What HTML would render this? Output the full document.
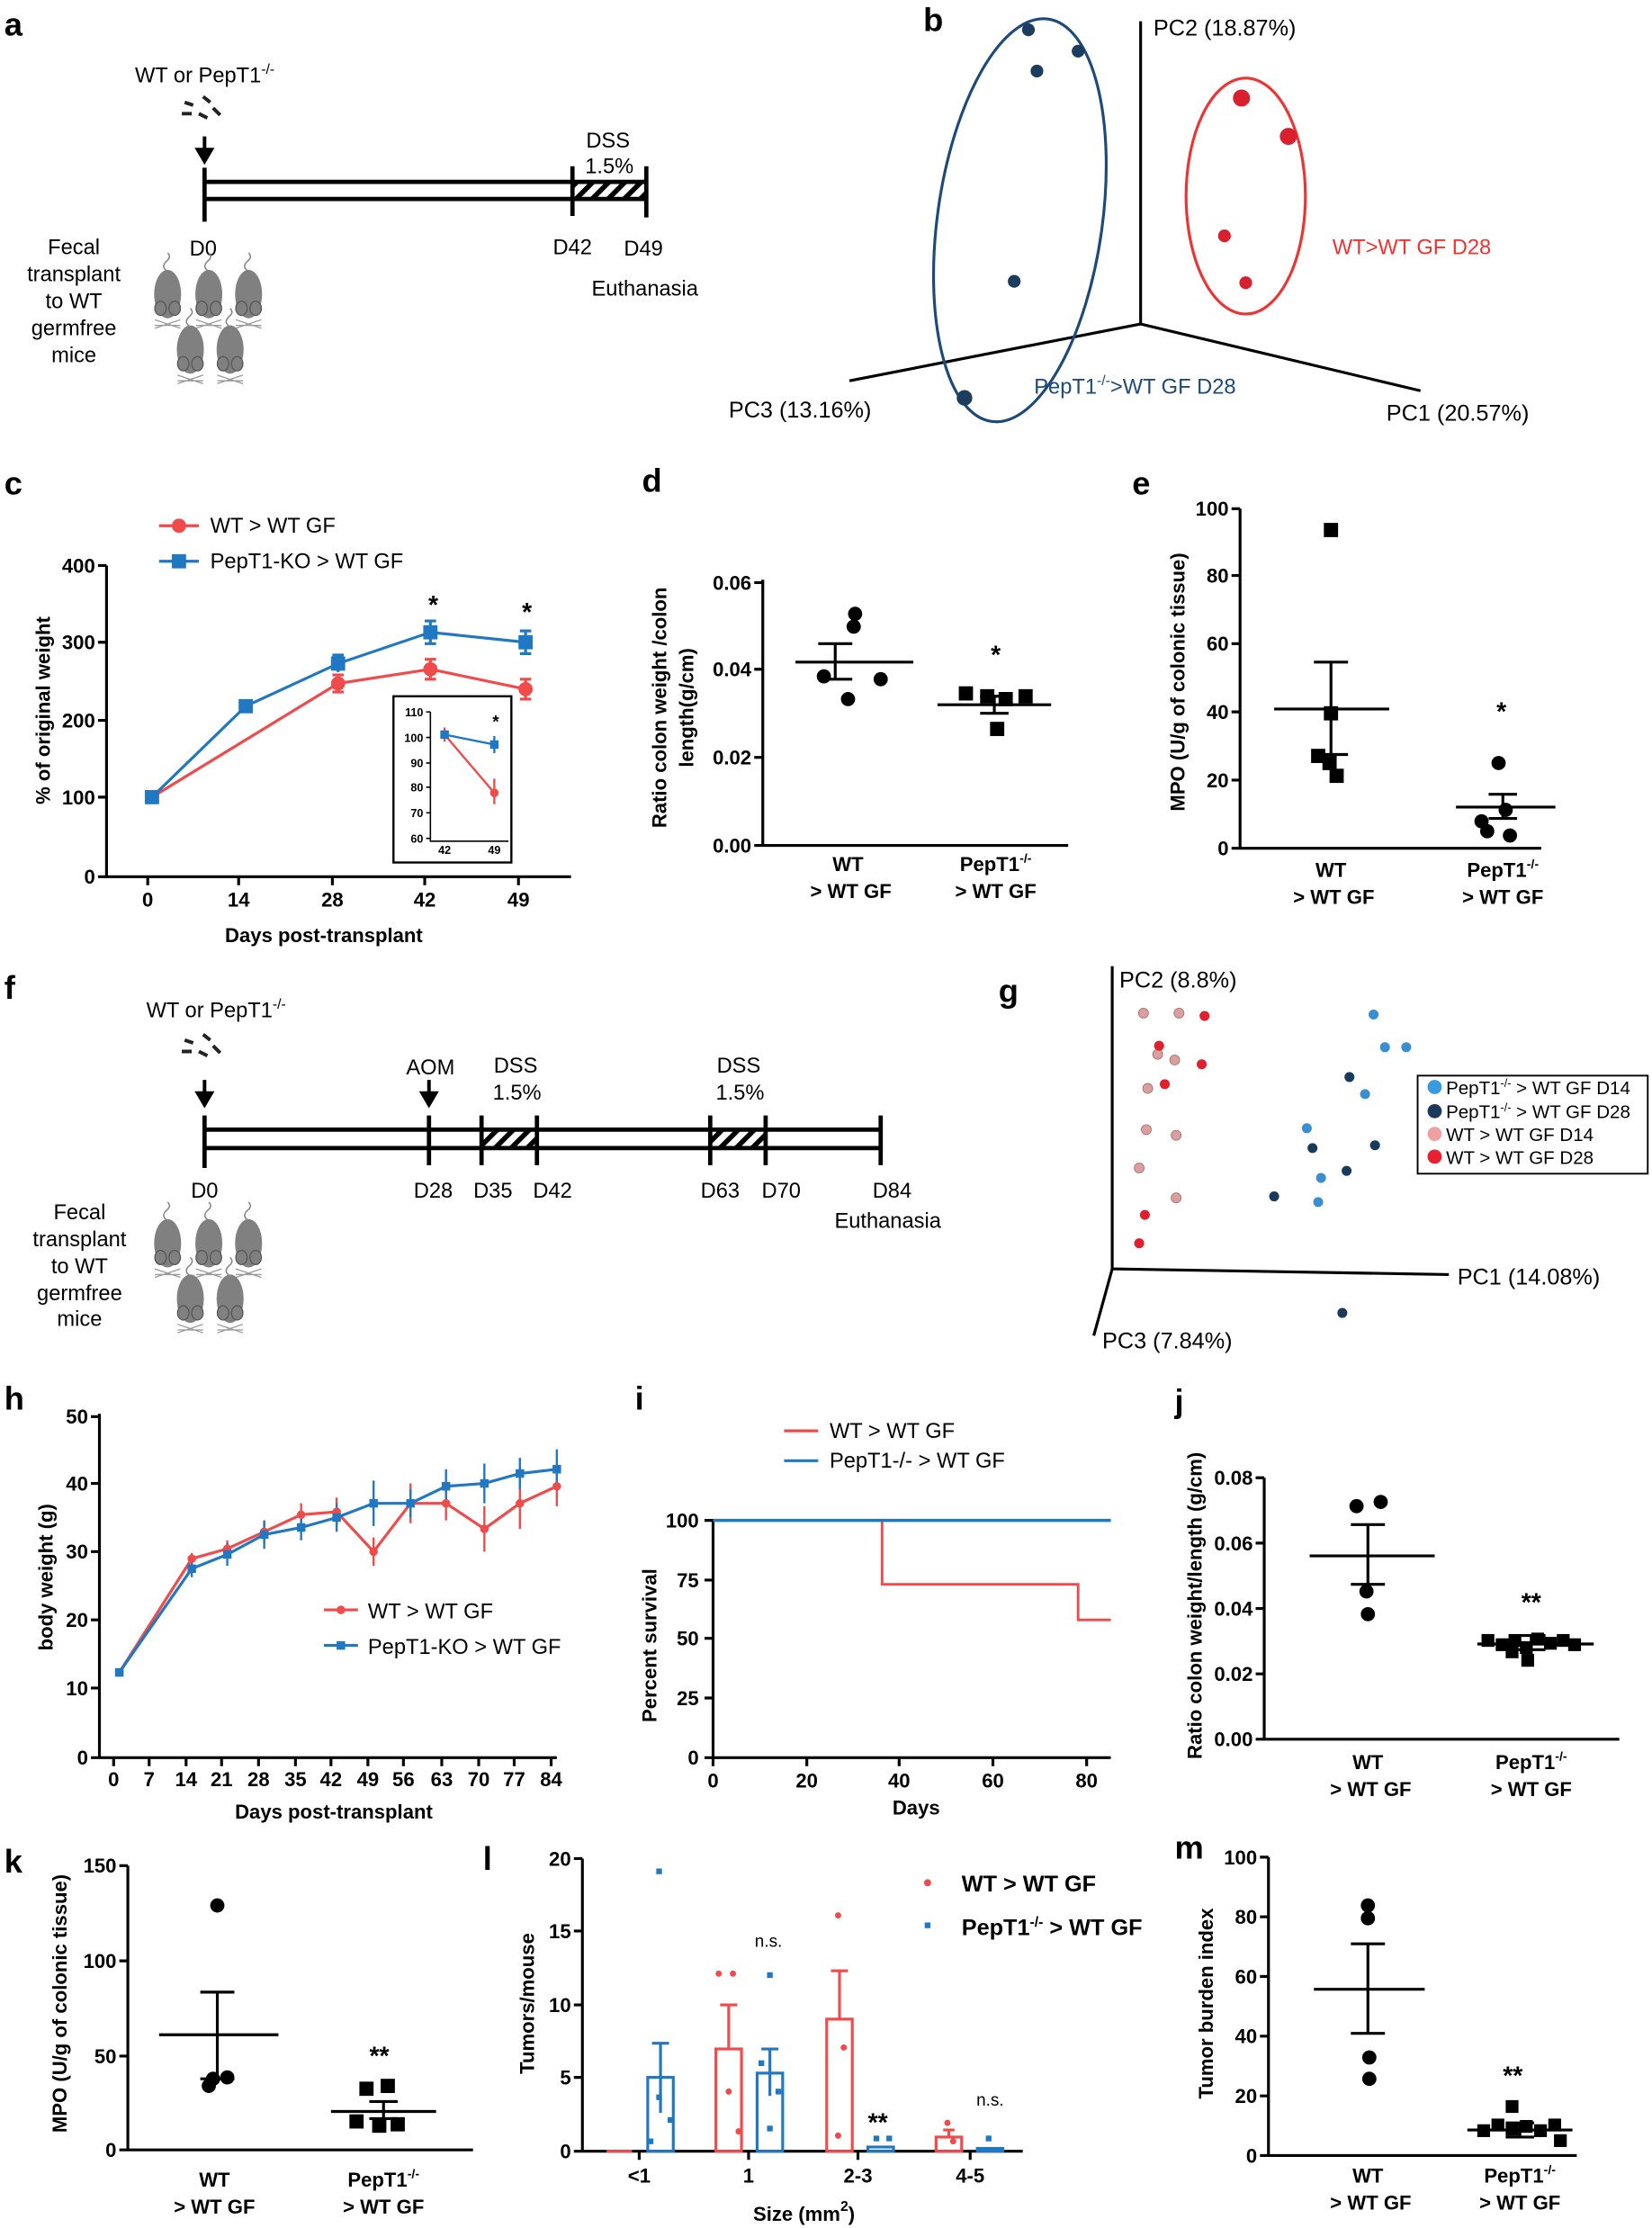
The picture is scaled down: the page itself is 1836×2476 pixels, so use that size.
<!DOCTYPE html>
<html><head><meta charset="utf-8"><style>html,body{margin:0;padding:0;background:#fff}svg{display:block}</style></head><body>
<svg width="1836" height="2476" viewBox="0 0 1163 1568" preserveAspectRatio="none" xmlns="http://www.w3.org/2000/svg" font-family="Liberation Sans, Arial, sans-serif">
<defs>
<pattern id="h" width="8" height="8" patternUnits="userSpaceOnUse" patternTransform="rotate(45)"><rect width="8" height="8" fill="#fff"/><rect width="3.5" height="8" fill="#000"/></pattern>
<g id="mouse"><path d="M0,-16 q-5,-3 -1,-7 q4,-3 1,-6" fill="none" stroke="#888" stroke-width="1"/><ellipse cx="0" cy="0" rx="9.5" ry="17" fill="#808080"/><ellipse cx="-5" cy="10" rx="4" ry="5" fill="#808080" stroke="#555" stroke-width="0.8"/><ellipse cx="5" cy="10" rx="4" ry="5" fill="#808080" stroke="#555" stroke-width="0.8"/><path d="M-9,18 l18,6 M9,18 l-18,6 M-9,22 l18,0" stroke="#999" stroke-width="0.8"/></g>
</defs>
<rect width="1163" height="1568" fill="#fff"/>
<g font-weight="bold" font-size="23">
<text x="3" y="25">a</text><text x="650" y="22">b</text><text x="3" y="348">c</text><text x="452" y="346">d</text><text x="797" y="348">e</text><text x="3" y="703">f</text><text x="703" y="705">g</text><text x="3" y="992">h</text><text x="447" y="992">i</text><text x="827" y="994">j</text><text x="3" y="1318">k</text><text x="340" y="1316">l</text><text x="827" y="1308">m</text>
</g>

<!-- a -->
<g font-size="15">
<text x="95" y="58">WT or PepT1<tspan font-size="10" dy="-6">-/-</tspan></text>
<path d="M130,72 l6,2 M128,80 l7,0 M143,68 l5,4 M140,80 l6,3 M150,76 l5,5" stroke="#222" stroke-width="2.5"/>
<path d="M144,96 v10" stroke="#000" stroke-width="2.5"/><path d="M137,104 l7,12 l7,-12z"/>
<rect x="403" y="128" width="52" height="12" fill="url(#h)"/>
<path d="M144,128 H455 M144,140 H455 M144,118 V156 M403,117 V152 M455,117 V153" stroke="#000" stroke-width="3"/>
<text x="428" y="104" text-anchor="middle">DSS</text><text x="429" y="122" text-anchor="middle">1.5%</text>
<text x="143" y="180" text-anchor="middle">D0</text><text x="403" y="179" text-anchor="middle">D42</text><text x="453" y="180" text-anchor="middle">D49</text>
<text x="454" y="208" text-anchor="middle">Euthanasia</text>
<g text-anchor="middle"><text x="52" y="179">Fecal</text><text x="52" y="198">transplant</text><text x="52" y="217">to WT</text><text x="52" y="236">germfree</text><text x="52" y="255">mice</text></g>
<use href="#mouse" x="118" y="207"/><use href="#mouse" x="147" y="207"/><use href="#mouse" x="175" y="207"/><use href="#mouse" x="134" y="246"/><use href="#mouse" x="162" y="246"/>
</g>

<!-- b -->
<g font-size="16">
<path d="M803,15 V228 L598,268 M803,228 L1000,275" stroke="#000" stroke-width="2" fill="none"/>
<text x="812" y="25">PC2 (18.87%)</text><text x="513" y="294">PC3 (13.16%)</text><text x="976" y="296">PC1 (20.57%)</text>
<ellipse cx="718" cy="155" rx="58" ry="143" transform="rotate(8 718 155)" fill="none" stroke="#1d4a7a" stroke-width="2"/>
<ellipse cx="877" cy="138" rx="42" ry="83" fill="none" stroke="#e33" stroke-width="2"/>
<g fill="#1d3d5e"><circle cx="724" cy="21" r="4.5"/><circle cx="759" cy="36" r="4.5"/><circle cx="730" cy="50" r="4.5"/><circle cx="714" cy="198" r="4.5"/><circle cx="679" cy="280" r="5.5"/></g>
<g fill="#d9202e"><circle cx="874" cy="69" r="6"/><circle cx="907" cy="96" r="6"/><circle cx="862" cy="166" r="4.5"/><circle cx="877" cy="199" r="4.5"/></g>
<text x="728" y="277" fill="#1d4a7a" font-size="15">PepT1<tspan font-size="10" dy="-6">-/-</tspan><tspan dy="6">&gt;WT GF D28</tspan></text>
<text x="938" y="179" fill="#e33" font-size="15">WT&gt;WT GF D28</text>
</g>

<!-- c -->
<g font-size="14" font-weight="bold">
<path d="M75,398 V617 H402" stroke="#000" stroke-width="2" fill="none"/>
<path d="M69,398 h6 M69,452 h6 M69,507 h6 M69,561 h6 M69,617 h6 M104,617 v6 M168,617 v6 M234,617 v6 M299,617 v6 M365,617 v6" stroke="#000" stroke-width="2"/>
<g text-anchor="end"><text x="67" y="403">400</text><text x="67" y="457">300</text><text x="67" y="512">200</text><text x="67" y="566">100</text><text x="67" y="622">0</text></g>
<g text-anchor="middle"><text x="104" y="638">0</text><text x="168" y="638">14</text><text x="234" y="638">28</text><text x="299" y="638">42</text><text x="365" y="638">49</text></g>
<text x="228" y="663" text-anchor="middle">Days post-transplant</text>
<text transform="translate(35,500) rotate(-90)" text-anchor="middle">% of original weight</text>
<polyline points="107,561 238,481 303,471 370,485" fill="none" stroke="#f04a4a" stroke-width="2"/>
<polyline points="107,561 173,497 238,467 303,445 370,452" fill="none" stroke="#1f78c1" stroke-width="2"/>
<path d="M238,475 v12 M303,464 v14 M370,478 v14 M234,475h8 M234,487h8 M299,464h8 M299,478h8 M366,478h8 M366,492h8" stroke="#f04a4a" stroke-width="2"/>
<path d="M238,461 v12 M303,437 v16 M370,444 v16 M234,461h8 M299,437h8 M299,453h8 M366,444h8 M366,460h8" stroke="#1f78c1" stroke-width="2"/>
<g fill="#f04a4a"><circle cx="238" cy="481" r="5"/><circle cx="303" cy="471" r="5"/><circle cx="370" cy="485" r="5"/></g>
<g fill="#1f78c1"><rect x="102" y="556" width="10" height="10"/><rect x="168" y="492" width="10" height="10"/><rect x="233" y="462" width="10" height="10"/><rect x="298" y="440" width="10" height="10"/><rect x="365" y="447" width="10" height="10"/></g>
<text x="305" y="432" text-anchor="middle" font-size="18">*</text><text x="371" y="437" text-anchor="middle" font-size="18">*</text>
<path d="M112,370 h28" stroke="#f04a4a" stroke-width="2"/><circle cx="126" cy="370" r="5" fill="#f04a4a"/>
<path d="M112,395 h28" stroke="#1f78c1" stroke-width="2"/><rect x="121" y="390" width="10" height="10" fill="#1f78c1"/>
<text x="148" y="375" font-weight="normal" font-size="15">WT &gt; WT GF</text><text x="148" y="400" font-weight="normal" font-size="15">PepT1-KO &gt; WT GF</text>
<rect x="277" y="490" width="83" height="117" fill="#fff" stroke="#000" stroke-width="1.5"/>
<g font-size="8"><path d="M303,501 V592 H358 M300,501h3 M300,519h3 M300,537h3 M300,554h3 M300,572h3 M300,590h3" stroke="#000" stroke-width="1" fill="none"/>
<g text-anchor="end"><text x="298" y="504">110</text><text x="298" y="522">100</text><text x="298" y="540">90</text><text x="298" y="557">80</text><text x="298" y="575">70</text><text x="298" y="593">60</text></g>
<text x="313" y="601" text-anchor="middle">42</text><text x="348" y="601" text-anchor="middle">49</text>
<polyline points="313,517 348,524" stroke="#1f78c1" stroke-width="1.5" fill="none"/><polyline points="313,517 348,558" stroke="#f04a4a" stroke-width="1.5" fill="none"/>
<path d="M348,548 v18 M313,512v10" stroke="#f04a4a" stroke-width="1.5"/><path d="M348,518 v12" stroke="#1f78c1" stroke-width="1.5"/>
<rect x="310" y="514" width="6" height="6" fill="#1f78c1"/><rect x="345" y="521" width="6" height="6" fill="#1f78c1"/><circle cx="348" cy="558" r="3" fill="#f04a4a"/>
<text x="349" y="512" text-anchor="middle" font-size="12">*</text></g>
</g>

<!-- d -->
<g font-size="14" font-weight="bold">
<path d="M537,408 V595 H752 M531,410h6 M531,471h6 M531,533h6 M531,595h6" stroke="#000" stroke-width="2" fill="none"/>
<g text-anchor="end"><text x="529" y="415">0.06</text><text x="529" y="476">0.04</text><text x="529" y="538">0.02</text><text x="529" y="600">0.00</text></g>
<path d="M560,466 H643 M588,453 v25 M576,453 h24 M576,478 h24 M660,496 H740 M700,490 v12 M690,490h20 M690,502h20" stroke="#000" stroke-width="2"/>
<g><circle cx="602" cy="432" r="5"/><circle cx="601" cy="441" r="5"/><circle cx="620" cy="478" r="5"/><circle cx="580" cy="476" r="5"/><circle cx="597" cy="492" r="5"/></g>
<g><rect x="675" y="483" width="10" height="10"/><rect x="690" y="485" width="10" height="10"/><rect x="703" y="487" width="10" height="10"/><rect x="717" y="485" width="10" height="10"/><rect x="697" y="508" width="10" height="10"/></g>
<text x="701" y="467" text-anchor="middle" font-size="18">*</text>
<g text-anchor="middle"><text x="597" y="613">WT</text><text x="599" y="632">&gt; WT GF</text><text x="701" y="613">PepT1<tspan font-size="9" dy="-6">-/-</tspan></text><text x="701" y="632">&gt; WT GF</text></g>
<text transform="translate(469,498) rotate(-90)" text-anchor="middle">Ratio colon weight /colon</text>
<text transform="translate(488,498) rotate(-90)" text-anchor="middle">length(g/cm)</text>
</g>

<!-- e -->
<g font-size="14" font-weight="bold">
<path d="M873,358 V597 H1085 M867,358h6 M867,405h6 M867,453h6 M867,501h6 M867,549h6 M867,597h6" stroke="#000" stroke-width="2" fill="none"/>
<g text-anchor="end"><text x="865" y="363">100</text><text x="865" y="410">80</text><text x="865" y="458">60</text><text x="865" y="506">40</text><text x="865" y="554">20</text><text x="865" y="602">0</text></g>
<path d="M897,499 H978 M937,466 v65 M925,466h24 M925,531h24 M1025,568 H1095 M1058,559 v17 M1048,559h20 M1048,576h20" stroke="#000" stroke-width="2"/>
<rect x="932" y="368" width="10" height="10"/><rect x="932" y="497" width="10" height="10"/><rect x="923" y="527" width="10" height="10"/><rect x="936" y="541" width="10" height="10"/><rect x="931" y="532" width="10" height="10"/>
<circle cx="1055" cy="537" r="5"/><circle cx="1043" cy="578" r="5"/><circle cx="1060" cy="570" r="5"/><circle cx="1047" cy="585" r="5"/><circle cx="1063" cy="588" r="5"/>
<text x="1057" y="507" text-anchor="middle" font-size="18">*</text>
<g text-anchor="middle"><text x="937" y="617">WT</text><text x="939" y="636">&gt; WT GF</text><text x="1058" y="617">PepT1<tspan font-size="9" dy="-6">-/-</tspan></text><text x="1058" y="636">&gt; WT GF</text></g>
<text transform="translate(834,480) rotate(-90)" text-anchor="middle">MPO (U/g of colonic tissue)</text>
</g>

<!-- f -->
<g font-size="15">
<text x="103" y="716">WT or PepT1<tspan font-size="10" dy="-6">-/-</tspan></text>
<path d="M130,732 l6,2 M128,740 l7,0 M143,728 l5,4 M140,740 l6,3 M150,736 l5,5" stroke="#222" stroke-width="2.5"/>
<path d="M144,760 v10 M302,760 v10" stroke="#000" stroke-width="2.5"/><path d="M137,768 l7,12 l7,-12z M295,768 l7,12 l7,-12z"/>
<rect x="339" y="795" width="39" height="13" fill="url(#h)"/><rect x="500" y="795" width="39" height="13" fill="url(#h)"/>
<path d="M144,795 H620 M144,808 H620 M144,785 V822 M302,785 V820 M339,785 V820 M378,785 V820 M500,785 V820 M539,785 V820 M620,785 V820" stroke="#000" stroke-width="3"/>
<text x="303" y="756" text-anchor="middle">AOM</text>
<text x="363" y="755" text-anchor="middle">DSS</text><text x="364" y="774" text-anchor="middle">1.5%</text>
<text x="520" y="755" text-anchor="middle">DSS</text><text x="521" y="774" text-anchor="middle">1.5%</text>
<g text-anchor="middle"><text x="144" y="843">D0</text><text x="305" y="843">D28</text><text x="347" y="843">D35</text><text x="389" y="843">D42</text><text x="507" y="843">D63</text><text x="550" y="843">D70</text><text x="628" y="843">D84</text><text x="625" y="864">Euthanasia</text>
<text x="56" y="858">Fecal</text><text x="56" y="877">transplant</text><text x="56" y="896">to WT</text><text x="56" y="915">germfree</text><text x="56" y="933">mice</text></g>
<use href="#mouse" x="118" y="875"/><use href="#mouse" x="147" y="875"/><use href="#mouse" x="175" y="875"/><use href="#mouse" x="134" y="914"/><use href="#mouse" x="162" y="914"/>
</g>

<!-- g -->
<g font-size="16">
<path d="M783,680 V893 L1020,897 M783,893 L770,940" stroke="#000" stroke-width="2" fill="none"/>
<text x="788" y="695">PC2 (8.8%)</text><text x="1026" y="904">PC1 (14.08%)</text><text x="776" y="949">PC3 (7.84%)</text>
<g fill="#d9a0a0" stroke="#a66" stroke-width="0.5"><circle cx="805" cy="713" r="3.5"/><circle cx="830" cy="713" r="3.5"/><circle cx="815" cy="742" r="3.5"/><circle cx="827" cy="746" r="3.5"/><circle cx="808" cy="766" r="3.5"/><circle cx="807" cy="795" r="3.5"/><circle cx="828" cy="799" r="3.5"/><circle cx="802" cy="822" r="3.5"/><circle cx="828" cy="843" r="3.5"/></g>
<g fill="#e0202e"><circle cx="848" cy="715" r="3.5"/><circle cx="846" cy="749" r="3.5"/><circle cx="820" cy="763" r="3.5"/><circle cx="806" cy="855" r="3.5"/><circle cx="802" cy="875" r="3.5"/><circle cx="816" cy="736" r="3.5"/></g>
<g fill="#3a8fd0"><circle cx="967" cy="714" r="3.5"/><circle cx="975" cy="737" r="3.5"/><circle cx="990" cy="737" r="3.5"/><circle cx="961" cy="770" r="3.5"/><circle cx="920" cy="794" r="3.5"/><circle cx="928" cy="846" r="3.5"/><circle cx="930" cy="829" r="3.5"/></g>
<g fill="#1a3a5c"><circle cx="950" cy="758" r="3.5"/><circle cx="968" cy="806" r="3.5"/><circle cx="924" cy="808" r="3.5"/><circle cx="948" cy="824" r="3.5"/><circle cx="897" cy="842" r="3.5"/><circle cx="945" cy="924" r="3.5"/></g>
<rect x="998" y="757" width="162" height="69" fill="#fff" stroke="#000" stroke-width="1.2"/>
<g font-size="13"><circle cx="1010" cy="765" r="5" fill="#3a9ae0"/><text x="1018" y="770">PepT1<tspan font-size="8" dy="-5">-/-</tspan><tspan dy="5"> &gt; WT GF D14</tspan></text>
<circle cx="1010" cy="782" r="5" fill="#1a3a5c"/><text x="1018" y="787">PepT1<tspan font-size="8" dy="-5">-/-</tspan><tspan dy="5"> &gt; WT GF D28</tspan></text>
<circle cx="1010" cy="798" r="5" fill="#f0a0a0"/><text x="1018" y="803">WT &gt; WT GF D14</text>
<circle cx="1010" cy="814" r="5" fill="#e82030"/><text x="1018" y="819">WT &gt; WT GF D28</text></g>
</g>

<!-- h -->
<g font-size="14" font-weight="bold">
<path d="M70,995 V1237 H392 M64,997h6 M64,1044h6 M64,1092h6 M64,1140h6 M64,1188h6 M64,1237h6" stroke="#000" stroke-width="2" fill="none"/>
<path d="M80,1237v6 M105,1237v6 M131,1237v6 M156,1237v6 M182,1237v6 M208,1237v6 M233,1237v6 M259,1237v6 M284,1237v6 M311,1237v6 M337,1237v6 M362,1237v6 M388,1237v6" stroke="#000" stroke-width="2"/>
<g text-anchor="end"><text x="62" y="1002">50</text><text x="62" y="1049">40</text><text x="62" y="1097">30</text><text x="62" y="1145">20</text><text x="62" y="1193">10</text><text x="62" y="1242">0</text></g>
<g text-anchor="middle"><text x="80" y="1257">0</text><text x="105" y="1257">7</text><text x="131" y="1257">14</text><text x="156" y="1257">21</text><text x="182" y="1257">28</text><text x="208" y="1257">35</text><text x="233" y="1257">42</text><text x="259" y="1257">49</text><text x="284" y="1257">56</text><text x="311" y="1257">63</text><text x="337" y="1257">70</text><text x="362" y="1257">77</text><text x="388" y="1257">84</text></g>
<text x="235" y="1280" text-anchor="middle">Days post-transplant</text>
<text transform="translate(37,1110) rotate(-90)" text-anchor="middle">body weight (g)</text>
<polyline points="84,1177 135,1097 160,1090 186,1078 212,1066 237,1064 263,1092 289,1058 314,1058 341,1076 366,1058 392,1046" fill="none" stroke="#f04a4a" stroke-width="2"/>
<polyline points="84,1177 135,1104 160,1094 186,1080 212,1075 237,1068 263,1058 289,1058 314,1046 341,1044 366,1037 392,1034" fill="none" stroke="#1f78c1" stroke-width="2"/>
<path d="M135,1093v8 M160,1084v12 M186,1070v16 M212,1058v16 M237,1054v20 M263,1082v20 M289,1044v28 M314,1046v24 M341,1060v32 M366,1040v36 M392,1032v28" stroke="#f04a4a" stroke-width="1.5"/>
<path d="M135,1098v12 M160,1086v16 M186,1070v20 M212,1066v18 M237,1058v20 M263,1042v32 M289,1048v20 M314,1034v24 M341,1030v28 M366,1026v22 M392,1020v28" stroke="#1f78c1" stroke-width="1.5"/>
<g fill="#f04a4a"><circle cx="84" cy="1177" r="3"/><circle cx="135" cy="1097" r="3"/><circle cx="160" cy="1090" r="3"/><circle cx="186" cy="1078" r="3"/><circle cx="212" cy="1066" r="3"/><circle cx="237" cy="1064" r="3"/><circle cx="263" cy="1092" r="3"/><circle cx="289" cy="1058" r="3"/><circle cx="314" cy="1058" r="3"/><circle cx="341" cy="1076" r="3"/><circle cx="366" cy="1058" r="3"/><circle cx="392" cy="1046" r="3"/></g>
<g fill="#1f78c1"><rect x="81" y="1174" width="6" height="6"/><rect x="132" y="1101" width="6" height="6"/><rect x="157" y="1091" width="6" height="6"/><rect x="183" y="1077" width="6" height="6"/><rect x="209" y="1072" width="6" height="6"/><rect x="234" y="1065" width="6" height="6"/><rect x="260" y="1055" width="6" height="6"/><rect x="286" y="1055" width="6" height="6"/><rect x="311" y="1043" width="6" height="6"/><rect x="338" y="1041" width="6" height="6"/><rect x="363" y="1034" width="6" height="6"/><rect x="389" y="1031" width="6" height="6"/></g>
<path d="M228,1133h24" stroke="#f04a4a" stroke-width="2"/><circle cx="240" cy="1133" r="3" fill="#f04a4a"/>
<path d="M228,1158h24" stroke="#1f78c1" stroke-width="2"/><rect x="237" y="1155" width="6" height="6" fill="#1f78c1"/>
<text x="259" y="1139" font-weight="normal" font-size="15">WT &gt; WT GF</text><text x="259" y="1164" font-weight="normal" font-size="15">PepT1-KO &gt; WT GF</text>
</g>

<!-- i -->
<g font-size="14" font-weight="bold">
<path d="M502,1070 V1237 H782 M496,1070h6 M496,1112h6 M496,1153h6 M496,1195h6 M496,1237h6 M502,1237v6 M568,1237v6 M633,1237v6 M699,1237v6 M765,1237v6" stroke="#000" stroke-width="2" fill="none"/>
<g text-anchor="end"><text x="492" y="1075">100</text><text x="492" y="1117">75</text><text x="492" y="1158">50</text><text x="492" y="1200">25</text><text x="492" y="1242">0</text></g>
<g text-anchor="middle"><text x="502" y="1258">0</text><text x="568" y="1258">20</text><text x="633" y="1258">40</text><text x="699" y="1258">60</text><text x="765" y="1258">80</text></g>
<text x="645" y="1277" text-anchor="middle">Days</text>
<text transform="translate(462,1158) rotate(-90)" text-anchor="middle">Percent survival</text>
<path d="M502,1070 H621 V1115 H759 V1140 H782" stroke="#f04a4a" stroke-width="1.8" fill="none"/>
<path d="M502,1070 H782" stroke="#1f78c1" stroke-width="2.2"/>
<path d="M552,1007h24" stroke="#f04a4a" stroke-width="2"/><path d="M552,1028h24" stroke="#1f78c1" stroke-width="2"/>
<text x="584" y="1012" font-weight="normal" font-size="15">WT &gt; WT GF</text><text x="584" y="1033" font-weight="normal" font-size="15">PepT1-/- &gt; WT GF</text>
</g>

<!-- j -->
<g font-size="14" font-weight="bold">
<path d="M890,1040 V1224 H1140 M884,1040h6 M884,1086h6 M884,1132h6 M884,1178h6 M884,1224h6" stroke="#000" stroke-width="2" fill="none"/>
<g text-anchor="end"><text x="882" y="1045">0.08</text><text x="882" y="1091">0.06</text><text x="882" y="1137">0.04</text><text x="882" y="1183">0.02</text><text x="882" y="1229">0.00</text></g>
<path d="M922,1095 H1010 M963,1073 v42 M951,1073h24 M951,1115h24 M1040,1157 H1122 M1078,1151 v10 M1068,1151h20 M1068,1161h20" stroke="#000" stroke-width="2"/>
<circle cx="955" cy="1060" r="5"/><circle cx="972" cy="1057" r="5"/><circle cx="962" cy="1120" r="5"/><circle cx="963" cy="1136" r="5"/>
<g><rect x="1043" y="1150" width="9" height="9"/><rect x="1053" y="1153" width="9" height="9"/><rect x="1062" y="1150" width="9" height="9"/><rect x="1070" y="1155" width="9" height="9"/><rect x="1078" y="1149" width="9" height="9"/><rect x="1087" y="1152" width="9" height="9"/><rect x="1096" y="1150" width="9" height="9"/><rect x="1104" y="1153" width="9" height="9"/><rect x="1071" y="1164" width="9" height="9"/><rect x="1060" y="1158" width="9" height="9"/></g>
<text x="1078" y="1134" text-anchor="middle" font-size="18">**</text>
<g text-anchor="middle"><text x="963" y="1245">WT</text><text x="965" y="1264">&gt; WT GF</text><text x="1078" y="1245">PepT1<tspan font-size="9" dy="-6">-/-</tspan></text><text x="1078" y="1264">&gt; WT GF</text></g>
<text transform="translate(846,1130) rotate(-90)" text-anchor="middle">Ratio colon weight/length (g/cm)</text>
</g>

<!-- k -->
<g font-size="14" font-weight="bold">
<path d="M90,1313 V1513 H333 M84,1313h6 M84,1380h6 M84,1447h6 M84,1513h6" stroke="#000" stroke-width="2" fill="none"/>
<g text-anchor="end"><text x="82" y="1318">150</text><text x="82" y="1385">100</text><text x="82" y="1452">50</text><text x="82" y="1518">0</text></g>
<path d="M112,1432 H196 M153,1402 v61 M141,1402h24 M141,1463h24 M233,1486 H307 M270,1479 v12 M260,1479h20 M260,1491h20" stroke="#000" stroke-width="2"/>
<circle cx="153" cy="1341" r="5"/><circle cx="150" cy="1463" r="5"/><circle cx="160" cy="1462" r="5"/><circle cx="147" cy="1468" r="5"/>
<rect x="253" y="1465" width="10" height="10"/><rect x="268" y="1463" width="10" height="10"/><rect x="246" y="1488" width="10" height="10"/><rect x="262" y="1491" width="10" height="10"/><rect x="275" y="1490" width="10" height="10"/>
<text x="267" y="1453" text-anchor="middle" font-size="18">**</text>
<g text-anchor="middle"><text x="151" y="1539">WT</text><text x="151" y="1558">&gt; WT GF</text><text x="270" y="1539">PepT1<tspan font-size="9" dy="-6">-/-</tspan></text><text x="270" y="1558">&gt; WT GF</text></g>
<text transform="translate(47,1410) rotate(-90)" text-anchor="middle">MPO (U/g of colonic tissue)</text>
</g>

<!-- l -->
<g font-size="14" font-weight="bold">
<path d="M410,1308 V1514 H720 M404,1308h6 M404,1359h6 M404,1411h6 M404,1462h6 M404,1514h6 M450,1514v6 M527,1514v6 M604,1514v6 M683,1514v6" stroke="#000" stroke-width="2" fill="none"/>
<g text-anchor="end"><text x="402" y="1313">20</text><text x="402" y="1364">15</text><text x="402" y="1416">10</text><text x="402" y="1467">5</text><text x="402" y="1519">0</text></g>
<g text-anchor="middle"><text x="450" y="1536">&lt;1</text><text x="527" y="1536">1</text><text x="604" y="1536">2-3</text><text x="683" y="1536">4-5</text></g>
<text x="566" y="1563" text-anchor="middle">Size (mm<tspan font-size="10" dy="-7">2</tspan><tspan dy="7">)</tspan></text>
<text transform="translate(376,1410) rotate(-90)" text-anchor="middle">Tumors/mouse</text>
<g fill="none" stroke="#f04a4a" stroke-width="2"><rect x="504" y="1442" width="18" height="72"/><rect x="582" y="1421" width="18" height="93"/><rect x="659" y="1504" width="18" height="10"/>
<path d="M513,1411v31 M507,1411h12 M591,1387v34 M585,1387h12 M668,1499v5 M664,1499h8"/></g>
<path d="M427,1514h18" stroke="#f04a4a" stroke-width="2"/>
<g fill="none" stroke="#1f78c1" stroke-width="2"><rect x="456" y="1462" width="18" height="52"/><rect x="533" y="1459" width="18" height="55"/><rect x="611" y="1511" width="18" height="3"/><rect x="688" y="1512" width="18" height="2"/>
<path d="M465,1438v49 M459,1438h12 M542,1442v33 M536,1442h12"/></g>
<g fill="#f04a4a"><circle cx="506" cy="1389" r="2.2"/><circle cx="516" cy="1389" r="2.2"/><circle cx="513" cy="1472" r="2.2"/><circle cx="520" cy="1500" r="2.2"/><circle cx="590" cy="1348" r="2.2"/><circle cx="594" cy="1441" r="2.2"/><circle cx="590" cy="1503" r="2.2"/><circle cx="667" cy="1494" r="2.2"/><circle cx="671" cy="1507" r="2.2"/></g>
<g fill="#1f78c1"><rect x="462" y="1315" width="4" height="4"/><rect x="462" y="1474" width="4" height="4"/><rect x="470" y="1490" width="4" height="4"/><rect x="456" y="1505" width="4" height="4"/><rect x="540" y="1388" width="4" height="4"/><rect x="534" y="1450" width="4" height="4"/><rect x="546" y="1470" width="4" height="4"/><rect x="540" y="1496" width="4" height="4"/><rect x="615" y="1503" width="4" height="4"/><rect x="624" y="1503" width="4" height="4"/><rect x="694" y="1503" width="4" height="4"/></g>
<text x="541" y="1370" text-anchor="middle" font-size="12" font-weight="normal">n.s.</text>
<text x="618" y="1500" text-anchor="middle" font-size="18">**</text>
<text x="697" y="1482" text-anchor="middle" font-size="12" font-weight="normal">n.s.</text>
<circle cx="653" cy="1325" r="2.5" fill="#f04a4a"/><rect x="651" y="1353" width="4" height="4" fill="#1f78c1"/>
<text x="677" y="1331" font-size="16">WT &gt; WT GF</text><text x="677" y="1362" font-size="16">PepT1<tspan font-size="10" dy="-6">-/-</tspan><tspan dy="6"> &gt; WT GF</tspan></text>
</g>

<!-- m -->
<g font-size="14" font-weight="bold">
<path d="M893,1307 V1517 H1110 M887,1307h6 M887,1349h6 M887,1391h6 M887,1433h6 M887,1475h6 M887,1517h6" stroke="#000" stroke-width="2" fill="none"/>
<g text-anchor="end"><text x="885" y="1312">100</text><text x="885" y="1354">80</text><text x="885" y="1396">60</text><text x="885" y="1438">40</text><text x="885" y="1480">20</text><text x="885" y="1522">0</text></g>
<path d="M925,1400 H1003 M963,1368 v63 M951,1368h24 M951,1431h24 M1033,1499 H1107 M1070,1494 v10 M1060,1494h20 M1060,1504h20" stroke="#000" stroke-width="2"/>
<circle cx="963" cy="1341" r="5"/><circle cx="963" cy="1350" r="5"/><circle cx="964" cy="1448" r="5"/><circle cx="964" cy="1463" r="5"/>
<g><rect x="1040" y="1495" width="9" height="9"/><rect x="1050" y="1491" width="9" height="9"/><rect x="1060" y="1494" width="9" height="9"/><rect x="1060" y="1478" width="9" height="9"/><rect x="1070" y="1492" width="9" height="9"/><rect x="1080" y="1495" width="9" height="9"/><rect x="1090" y="1491" width="9" height="9"/><rect x="1094" y="1502" width="9" height="9"/></g>
<text x="1065" y="1467" text-anchor="middle" font-size="18">**</text>
<g text-anchor="middle"><text x="963" y="1536">WT</text><text x="965" y="1555">&gt; WT GF</text><text x="1070" y="1536">PepT1<tspan font-size="9" dy="-6">-/-</tspan></text><text x="1070" y="1555">&gt; WT GF</text></g>
<text transform="translate(854,1410) rotate(-90)" text-anchor="middle">Tumor burden index</text>
</g>
</svg>
</body></html>
